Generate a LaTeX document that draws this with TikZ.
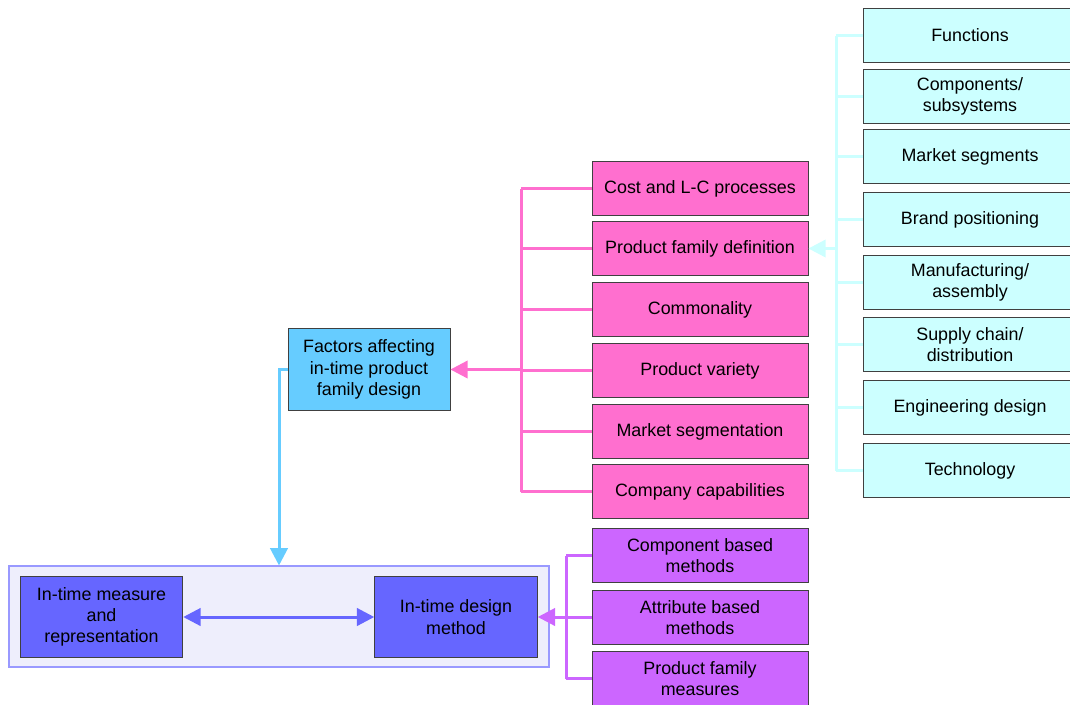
\documentclass[tikz,border=0pt]{standalone}
\usepackage{fontspec}
\setmainfont{Liberation Sans}
\usetikzlibrary{arrows.meta}
\definecolor{aspectcyan}{HTML}{CCFFFF}
\definecolor{factorpink}{HTML}{FF6FCF}
\definecolor{methodpurple}{HTML}{CC66FF}
\definecolor{factblue}{HTML}{66CCFF}
\definecolor{coreblue}{HTML}{6666FF}
\definecolor{framefill}{HTML}{EEEEFC}
\definecolor{frameline}{HTML}{9999FF}
\begin{document}
\begin{tikzpicture}[x=0.75pt, y=-0.75pt,
  box/.style={draw=black!75, line width=0.6pt, align=center, inner sep=0pt,
    font=\fontsize{13.4}{16}\selectfont},
  aspect/.style={box, fill=aspectcyan, minimum width=160.5pt, minimum height=40.5pt},
  factor/.style={box, fill=factorpink, minimum width=162pt, minimum height=40.5pt},
  method/.style={box, fill=methodpurple, minimum width=162pt, minimum height=40.5pt},
  core/.style={box, fill=coreblue, minimum width=122pt, minimum height=61pt},
  link/.style={line width=2.25pt},
  tip/.style={-{Triangle[length=13pt, width=13pt]}}]
\useasboundingbox (0,0) rectangle (1070,704);

% outer frame
\node[draw=frameline, fill=framefill, line width=0.8pt, minimum width=405pt, minimum height=75.75pt] (frame) at (279,616.5) {};

% aspects of the product family
\node[aspect] (functions) at (970,35.5) {Functions};
\node[aspect] (components) at (970,96.5) {Components/\\subsystems};
\node[aspect] (segments) at (970,156.5) {Market segments};
\node[aspect] (brand) at (970,219.5) {Brand positioning};
\node[aspect] (manufacturing) at (970,282.5) {Manufacturing/\\assembly};
\node[aspect] (supply) at (970,344.5) {Supply chain/\\distribution};
\node[aspect] (engineering) at (970,407.5) {Engineering design};
\node[aspect] (technology) at (970,470.5) {Technology};

% factors
\node[factor] (cost) at (700,188.5) {Cost and L-C processes};
\node[factor] (definition) at (700,248.5) {Product family definition};
\node[factor] (commonality) at (700,309.5) {Commonality};
\node[factor] (variety) at (700,370.5) {Product variety};
\node[factor] (segmentation) at (700,431.5) {Market segmentation};
\node[factor] (capabilities) at (700,491.5) {Company capabilities};

\node[box, fill=factblue, minimum width=121.5pt, minimum height=61.5pt] (factors) at (369,369.5) {Factors affecting\\in-time product\\family design};

% methods
\node[method] (component) at (700,555.5) {Component based\\methods};
\node[method] (attribute) at (700,617.5) {Attribute based\\methods};
\node[method] (measures) at (700,678.5) {Product family\\measures};

\node[core] (measure) at (101.5,617) {In-time measure\\and\\representation};
\node[core] (design) at (456,617) {In-time design\\method};

% cyan connectors
\coordinate (cyanbus) at (836,248.5);
\draw[link, aspectcyan] (functions.west -| cyanbus) -- (technology.west -| cyanbus);
\draw[link, aspectcyan] (functions.west) -- (functions.west -| cyanbus);
\draw[link, aspectcyan] (components.west) -- (components.west -| cyanbus);
\draw[link, aspectcyan] (segments.west) -- (segments.west -| cyanbus);
\draw[link, aspectcyan] (brand.west) -- (brand.west -| cyanbus);
\draw[link, aspectcyan] (manufacturing.west) -- (manufacturing.west -| cyanbus);
\draw[link, aspectcyan] (supply.west) -- (supply.west -| cyanbus);
\draw[link, aspectcyan] (engineering.west) -- (engineering.west -| cyanbus);
\draw[link, aspectcyan] (technology.west) -- (technology.west -| cyanbus);
\draw[link, tip, aspectcyan] (cyanbus) -- (definition.east);

% pink connectors
\coordinate (pinkbus) at (521,369.5);
\draw[link, factorpink] (cost.west -| pinkbus) -- (capabilities.west -| pinkbus);
\draw[link, factorpink] (cost.west) -- (cost.west -| pinkbus);
\draw[link, factorpink] (definition.west) -- (definition.west -| pinkbus);
\draw[link, factorpink] (commonality.west) -- (commonality.west -| pinkbus);
\draw[link, factorpink] (variety.west) -- (variety.west -| pinkbus);
\draw[link, factorpink] (segmentation.west) -- (segmentation.west -| pinkbus);
\draw[link, factorpink] (capabilities.west) -- (capabilities.west -| pinkbus);
\draw[link, tip, factorpink] (pinkbus) -- (factors.east);

% blue connectors
\draw[link, tip, factblue] (factors.west) -| (frame.north);
\draw[link, coreblue, {Triangle[length=13pt, width=13pt]}-{Triangle[length=13pt, width=13pt]}] (measure.east) -- (design.west);

% purple connectors
\coordinate (purplebus) at (566,617);
\draw[link, methodpurple] (component.west -| purplebus) -- (measures.west -| purplebus);
\draw[link, methodpurple] (component.west) -- (component.west -| purplebus);
\draw[link, methodpurple] (attribute.west) -- (attribute.west -| purplebus);
\draw[link, methodpurple] (measures.west) -- (measures.west -| purplebus);
\draw[link, tip, methodpurple] (purplebus) -- (design.east);
\end{tikzpicture}
\end{document}
